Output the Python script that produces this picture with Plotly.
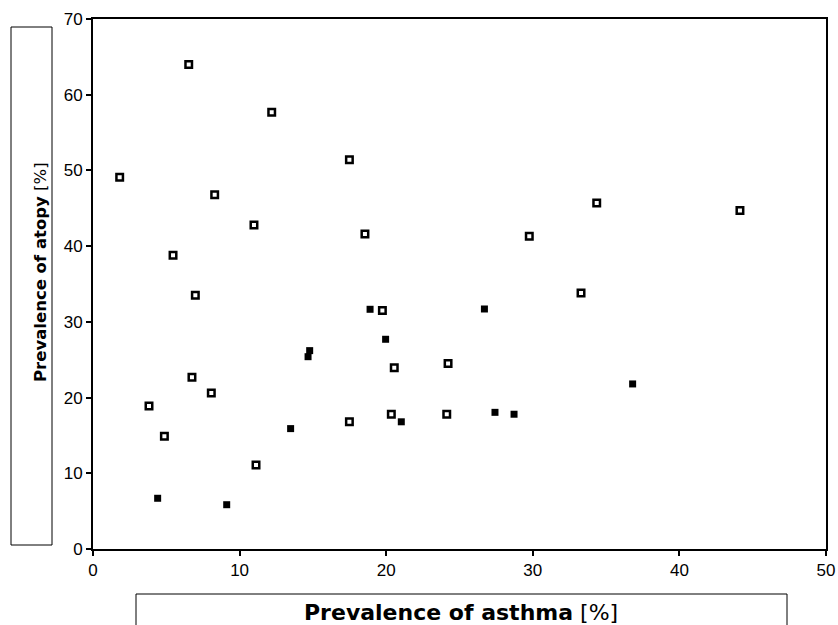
import plotly.graph_objects as go

# Open squares (series A)
open_x = [6.53, 12.19, 1.82, 8.30, 17.49, 18.55, 29.76, 19.74, 34.36, 44.13, 33.29, 3.82,
          4.87, 11.12, 17.49, 20.35, 24.13, 10.98, 5.46, 6.98, 6.75, 8.07, 20.55, 24.22]
open_y = [64.0, 57.7, 49.1, 46.8, 51.4, 41.6, 41.3, 31.5, 45.7, 44.7, 33.8, 18.9,
          14.9, 11.1, 16.8, 17.8, 17.8, 42.8, 38.8, 33.5, 22.7, 20.6, 23.95, 24.5]

# Filled squares (series B)
filled_x = [18.9, 26.7, 19.96, 14.78, 14.67, 36.81, 13.48, 4.41, 9.12, 21.03, 27.42, 28.72]
filled_y = [31.66, 31.7, 27.7, 26.2, 25.4, 21.8, 15.9, 6.7, 5.85, 16.8, 18.05, 17.8]

x_ticks = [0, 10, 20, 30, 40, 50]
y_ticks = [0, 10, 20, 30, 40, 50, 60, 70]

x_title = "<b>Prevalence of asthma</b> [%]"
y_title = "<b>Prevalence of atopy</b> [%]"

fig = go.Figure()
fig.add_trace(go.Scatter(
    x=open_x, y=open_y, mode="markers",
    marker=dict(symbol="square-open", size=6.5, color="black", line=dict(width=2.5, color="black")),
    showlegend=False, hoverinfo="x+y"))
fig.add_trace(go.Scatter(
    x=filled_x, y=filled_y, mode="markers",
    marker=dict(symbol="square", size=7, color="black", line=dict(width=0)),
    showlegend=False, hoverinfo="x+y"))

W, H = 838, 625
L, R, T, B = 93, 12, 19, 76
pw, ph = W - L - R, H - T - B

def px(xp):
    return (xp - L) / pw

def py(yp):
    return (H - B - yp) / ph

axis_common = dict(
    showgrid=False, zeroline=False, showline=True, linecolor="black", linewidth=2,
    mirror=True, ticks="outside", ticklen=5, tickwidth=1.5, tickcolor="black",
    automargin=False,
    tickfont=dict(family="'Liberation Sans', Arial, sans-serif", size=17, color="black"),
)

fig.update_layout(
    template="none",
    width=W, height=H,
    margin=dict(l=L, r=R, t=T, b=B, pad=0, autoexpand=False),
    paper_bgcolor="white", plot_bgcolor="white",
    xaxis=dict(range=[0, 50], tickvals=x_ticks, **axis_common),
    yaxis=dict(range=[0, 70], tickvals=y_ticks, **axis_common),
    shapes=[
        dict(type="rect", xref="paper", yref="paper",
             x0=px(11), x1=px(52), y0=py(545), y1=py(27),
             line=dict(color="black", width=1), fillcolor="rgba(0,0,0,0)"),
        dict(type="rect", xref="paper", yref="paper",
             x0=px(136), x1=px(787), y0=py(640), y1=py(594),
             line=dict(color="black", width=1), fillcolor="rgba(0,0,0,0)"),
    ],
    annotations=[
        dict(text=x_title, xref="paper", yref="paper", x=px(461), y=py(612),
             xanchor="center", yanchor="middle", showarrow=False,
             font=dict(family="DejaVu Sans, sans-serif", size=22, color="black")),
        dict(text=y_title, xref="paper", yref="paper", x=px(40), y=py(272),
             xanchor="center", yanchor="middle", showarrow=False, textangle=-90,
             font=dict(family="DejaVu Sans, sans-serif", size=16.5, color="black")),
    ],
)

fig.write_html("out.html")
